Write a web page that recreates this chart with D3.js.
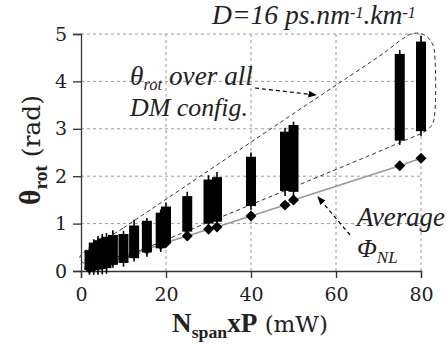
<!DOCTYPE html>
<html><head><meta charset="utf-8">
<script src="https://cdn.jsdelivr.net/npm/d3@7"></script>
<style>html,body{margin:0;padding:0;background:#fff;}svg{display:block;}</style>
</head><body>
<script>
// ---- data ----
const xVals     = [2, 3, 4, 5, 6, 7.5, 10, 12.5, 15.5, 18.75, 20, 25, 30, 32, 40, 48, 50, 75, 80];
const boxLow    = [0.02,0.02,0.03,0.04,0.06,0.13,0.17,0.27,0.39,0.48,0.60,0.83,1.00,1.04,1.37,1.69,1.67,2.75,2.95];
const boxHigh   = [0.44,0.60,0.65,0.69,0.72,0.76,0.78,0.96,1.06,1.23,1.36,1.58,1.93,1.98,2.41,2.94,3.08,4.58,4.84];
const whiskLow  = [-0.08,-0.08,-0.08,-0.07,-0.06,0.07,0.09,0.20,0.30,0.40,0.50,0.76,0.93,0.97,1.29,1.58,1.56,2.66,2.85];
const whiskHigh = [0.50,0.67,0.74,0.78,0.80,0.86,0.85,1.08,1.12,1.30,1.44,1.67,2.02,2.09,2.50,3.02,3.15,4.66,4.96];
const phiNL     = [0.06,0.09,0.12,0.15,0.18,0.22,0.30,0.37,0.46,0.56,0.60,0.74,0.88,0.93,1.16,1.39,1.50,2.22,2.38];
const xTicks = [0, 20, 40, 60, 80];
const yTicks = [0, 1, 2, 3, 4, 5];
// dashed envelope (data coords)
const envX = [-0.24, 10, 40, 70, 78.1, 81.0, 82.8, 83.3, 83.3, 82.8, 81.5, 75, 40, 10, 4.47, 1.65, 0.24];
const envY = [0.30, 0.91, 2.72, 4.52, 5.01, 4.97, 4.77, 4.45, 3.40, 3.12, 2.98, 2.71, 1.40, 0.29, 0.084, 0.127, 0.19];

const SERIF = "Liberation Serif, Times New Roman, serif";
const UPRIGHT = "DejaVu Serif, serif";
const W = 446, H = 345;
const svg = d3.select("body").append("svg").attr("width", W).attr("height", H)
  .attr("font-family", SERIF);

const x = d3.scaleLinear().domain([0, 80]).range([81, 421]);
const y = d3.scaleLinear().domain([0, 5]).range([271, 34]);

// scale all font sizes / shifts inside a text so that it spans targetW pixels
function fit(sel, targetW) {
  const w = sel.node().getComputedTextLength();
  if (!w) return;
  const k = targetW / w;
  sel.attr("font-size", +sel.attr("font-size") * k);
  sel.selectAll("tspan").each(function () {
    const t = d3.select(this);
    if (t.attr("font-size")) t.attr("font-size", +t.attr("font-size") * k);
    if (t.attr("dy")) t.attr("dy", +t.attr("dy") * k);
  });
}

// grid
const grid = svg.append("g").attr("stroke", "#9a9a9a").attr("stroke-dasharray", "3,3").attr("stroke-width", 1);
xTicks.filter(d => d > 0).forEach(d => grid.append("line")
  .attr("x1", x(d)).attr("x2", x(d)).attr("y1", y(0)).attr("y2", y(5)));
yTicks.filter(d => d > 0).forEach(d => grid.append("line")
  .attr("x1", x(0)).attr("x2", x(80)).attr("y1", y(d)).attr("y2", y(d)));

// axes
const xAxis = d3.axisBottom(x).tickValues(xTicks).tickFormat(d3.format("d")).tickSize(7).tickPadding(10);
const yAxis = d3.axisLeft(y).tickValues(yTicks).tickFormat(d3.format("d")).tickSize(8).tickPadding(6);
const gx = svg.append("g").attr("transform", `translate(0,${y(0)})`).call(xAxis);
const gy = svg.append("g").attr("transform", `translate(${x(0)},0)`).call(yAxis);
[gx, gy].forEach(g => {
  g.attr("font-family", UPRIGHT).attr("font-size", 19);
  g.select(".domain").attr("stroke", "#333").attr("stroke-width", 1.3);
  g.selectAll(".tick line").attr("stroke", "#333").attr("stroke-width", 1.3);
  g.selectAll(".tick text").attr("fill", "#222");
});

// envelope
const env = envX.map((v, i) => [v, envY[i]]);
svg.append("path").datum(env)
  .attr("d", d3.line().x(d => x(d[0])).y(d => y(d[1])).curve(d3.curveCatmullRomClosed.alpha(0.5)))
  .attr("fill", "none").attr("stroke", "#333").attr("stroke-width", 1).attr("stroke-dasharray", "4,3");

// gray average line
svg.append("path").datum(xVals.map((v, i) => [v, phiNL[i]]))
  .attr("d", d3.line().x(d => x(d[0])).y(d => y(d[1])))
  .attr("fill", "none").attr("stroke", "#999").attr("stroke-width", 1.6);

// boxes
const g = svg.append("g");
xVals.forEach((v, i) => {
  g.append("line").attr("x1", x(v)).attr("x2", x(v))
    .attr("y1", y(whiskLow[i])).attr("y2", y(whiskHigh[i]))
    .attr("stroke", "#000").attr("stroke-width", 1.6);
  g.append("rect").attr("x", x(v) - 5).attr("width", 10)
    .attr("y", y(boxHigh[i])).attr("height", y(boxLow[i]) - y(boxHigh[i]))
    .attr("fill", "#000");
});
// diamonds
const sym = d3.symbol().type(d3.symbolSquare).size(60);
xVals.forEach((v, i) => {
  g.append("path").attr("d", sym())
    .attr("transform", `translate(${x(v)},${y(phiNL[i])}) rotate(45)`).attr("fill", "#000");
});

// arrow marker
const defs = svg.append("defs");
defs.append("marker").attr("id", "ah").attr("viewBox", "0 0 10 10").attr("refX", 9).attr("refY", 5)
  .attr("markerWidth", 7).attr("markerHeight", 7).attr("orient", "auto")
  .append("path").attr("d", "M0,1 L10,5 L0,9 Z").attr("fill", "#000");

svg.append("line").attr("x1", 255).attr("y1", 88).attr("x2", 316).attr("y2", 95)
  .attr("stroke", "#000").attr("stroke-width", 1.2).attr("stroke-dasharray", "4,3").attr("marker-end", "url(#ah)");
svg.append("line").attr("x1", 350).attr("y1", 235).attr("x2", 318).attr("y2", 197)
  .attr("stroke", "#000").attr("stroke-width", 1.2).attr("stroke-dasharray", "4,3").attr("marker-end", "url(#ah)");

// annotations
const ann = svg.append("g").attr("fill", "#222").attr("font-style", "italic");
const t1 = ann.append("text").attr("x", 212).attr("y", 24).attr("font-size", 24);
t1.append("tspan").text("D=16 ps.nm");
t1.append("tspan").attr("dy", -5.5).attr("font-size", 14).text("-1");
t1.append("tspan").attr("dy", 5.5).text(".km");
t1.append("tspan").attr("dy", -5.5).attr("font-size", 14).text("-1");
fit(t1, 204);

const t2 = ann.append("text").attr("x", 130).attr("y", 85).attr("font-size", 23);
t2.append("tspan").text("θ");
t2.append("tspan").attr("dy", 4).attr("font-size", 14).text("rot");
t2.append("tspan").attr("dy", -4).text(" over all");
fit(t2, 123);
const t2b = ann.append("text").attr("x", 130).attr("y", 116).attr("font-size", 25).text("DM config.");
fit(t2b, 118);

const t4 = ann.append("text").attr("x", 357).attr("y", 226).attr("font-size", 26).text("Average");
fit(t4, 88);
const t3 = ann.append("text").attr("x", 357).attr("y", 257).attr("font-size", 26);
t3.append("tspan").text("Φ");
t3.append("tspan").attr("dy", 6).attr("font-size", 17).text("NL");

// axis titles
const xt = svg.append("text").attr("x", 250).attr("y", 332).attr("text-anchor", "middle")
  .attr("fill", "#222").attr("font-size", 26);
xt.append("tspan").attr("font-weight", "bold").text("N");
xt.append("tspan").attr("dy", 6).attr("font-weight", "bold").attr("font-size", 17).text("span");
xt.append("tspan").attr("dy", -6).attr("font-weight", "bold").text("xP");
xt.append("tspan").attr("font-family", UPRIGHT).attr("font-size", 22).text(" (mW)");
fit(xt, 156);

const yt = svg.append("text").attr("transform", "translate(40,150) rotate(-90)").attr("text-anchor", "middle")
  .attr("fill", "#222").attr("font-size", 26);
yt.append("tspan").attr("font-weight", "bold").text("θ");
yt.append("tspan").attr("dy", 6).attr("font-weight", "bold").attr("font-size", 17).text("rot");
yt.append("tspan").attr("dy", -6).attr("font-family", UPRIGHT).attr("font-size", 22).text(" (rad)");
fit(yt, 110);
</script>
</body></html>
